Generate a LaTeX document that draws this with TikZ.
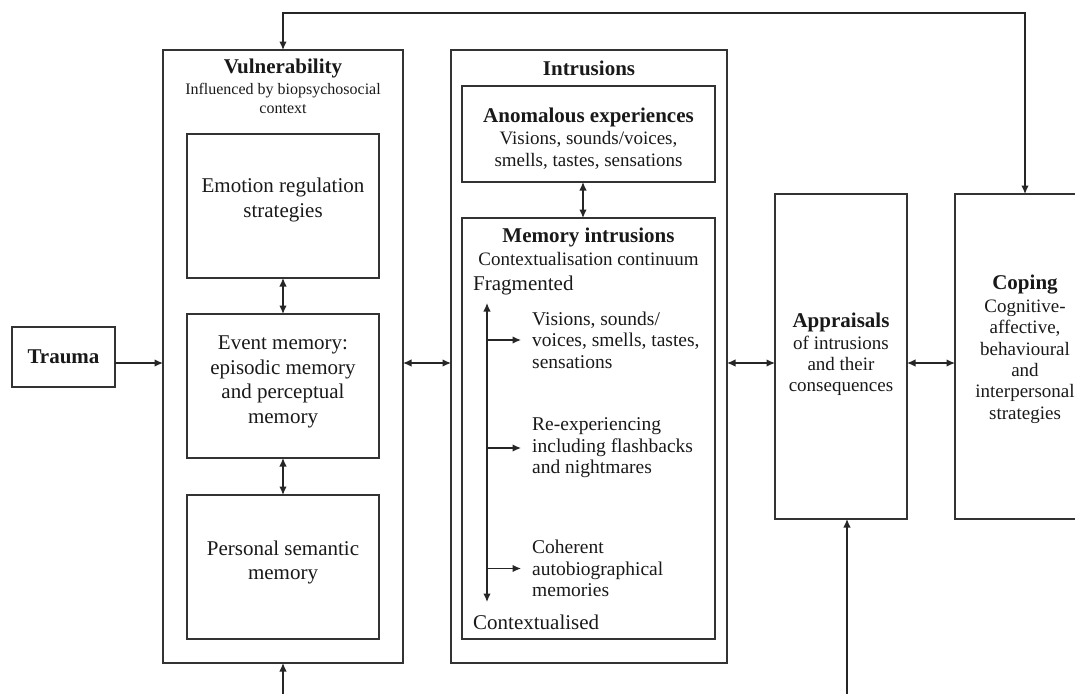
\documentclass[tikz,border=0pt]{standalone}
\usepackage{fontspec}
\setmainfont{Liberation Serif}
\usetikzlibrary{arrows.meta}
\begin{document}
\begin{tikzpicture}[x=1pt,y=-1pt,
  box/.style={draw=black!80, line width=1.4pt, rectangle, inner sep=0pt, outer sep=0pt},
  txt/.style={inner sep=0pt, align=center, text=black!90},
  big/.style={font=\fontsize{21}{25}\selectfont},
  mid/.style={font=\fontsize{19}{22}\selectfont},
  small/.style={font=\fontsize{16}{19}\selectfont},
  ttl/.style={font=\fontsize{21}{25}\selectfont\bfseries},
  branch/.style={inner sep=0pt, align=left, anchor=west, text=black!90, font=\fontsize{19.5}{21.5}\selectfont},
  arr/.style={-{Latex[length=8.5pt,width=7.5pt]}, line width=1.3pt, draw=black!85},
  dbl/.style={{Latex[length=8.5pt,width=7.5pt]}-{Latex[length=8.5pt,width=7.5pt]}, line width=1.3pt, draw=black!85},
]
\useasboundingbox (0,0) rectangle (1075,694);

% Trauma
\node[box, minimum width=103, minimum height=60, txt, ttl] (trauma) at (63.5,357) {Trauma};

% Vulnerability block
\node[box, minimum width=240, minimum height=613] (vul) at (283,356.5) {};
\node[txt, ttl] (vultitle) at (283,68) {Vulnerability};
\node[txt, small] (vulsub) at (283,98.5) {Influenced by biopsychosocial\\context};
\node[box, minimum width=192, minimum height=144] (emo) at (283,206) {};
\node[txt, big] (emotxt) at (283,200) {Emotion regulation\\strategies};
\node[box, minimum width=192, minimum height=144] (event) at (283,386) {};
\node[txt, font=\fontsize{21}{24.7}\selectfont] (eventtxt) at (283,382) {Event memory:\\episodic memory\\and perceptual\\memory};
\node[box, minimum width=192, minimum height=144] (pers) at (283,567) {};
\node[txt, font=\fontsize{21}{24}\selectfont] (perstxt) at (283,562) {Personal semantic\\memory};

% Intrusions block
\node[box, minimum width=276, minimum height=613] (intr) at (589,356.5) {};
\node[txt, ttl] (intrtitle) at (589,68) {Intrusions};
\node[box, minimum width=253, minimum height=96] (anom) at (588.5,134) {};
\node[txt, ttl] (anomtitle) at (588.5,117) {Anomalous experiences};
\node[txt, mid] (anomtxt) at (588.5,150) {Visions, sounds/voices,\\smells, tastes, sensations};
\node[box, minimum width=253, minimum height=421] (mem) at (588.5,428.5) {};
\node[txt, ttl] (memtitle) at (588.5,237) {Memory intrusions};
\node[txt, mid] (memsub) at (588.5,259) {Contextualisation continuum};
\node[txt, big, anchor=west] (frag) at (473,285) {Fragmented};
\node[txt, big, anchor=west] (ctx) at (473,622) {Contextualised};
\coordinate (ctop) at (487,303);
\coordinate (cbot) at (487,602);
\node[branch] (b1) at (532,340) {Visions, sounds/\\voices, smells, tastes,\\sensations};
\node[branch] (b2) at (532,448) {Re-experiencing\\including flashbacks\\and nightmares};
\node[branch] (b3) at (532,568.5) {Coherent\\autobiographical\\memories};

% Appraisals and coping
\node[box, minimum width=132, minimum height=325] (appr) at (841,356.5) {};
\node[txt, ttl] (apprtitle) at (841,322) {Appraisals};
\node[txt, font=\fontsize{19}{21}\selectfont] (apprtxt) at (841,366) {of intrusions\\and their\\consequences};
\node[box, minimum width=140, minimum height=325] (coping) at (1025,356.5) {};
\node[txt, ttl] (copingtitle) at (1025,285) {Coping};
\node[txt, font=\fontsize{19}{21.4}\selectfont] (copingtxt) at (1025,361.5) {Cognitive-\\affective,\\behavioural\\and\\interpersonal\\strategies};

% Connectors
\coordinate (row) at (0,363);
\coordinate (fb) at (0,13);
\coordinate (ax) at (583,0);
\coordinate (vin) at (283,694);
\coordinate (ain) at (847,694);

\draw[arr] (trauma.east |- row) -- (vul.west |- row);
\draw[dbl] (vul.east |- row) -- (intr.west |- row);
\draw[dbl] (intr.east |- row) -- (appr.west |- row);
\draw[dbl] (appr.east |- row) -- (coping.west |- row);

\draw[dbl] (emo.south) -- (event.north);
\draw[dbl] (event.south) -- (pers.north);
\draw[dbl] (anom.south -| ax) -- (mem.north -| ax);

\draw[dbl] (ctop) -- (cbot);
\draw[arr, shorten >=11pt] (ctop |- b1.west) -- (b1.west);
\draw[arr, shorten >=11pt] (ctop |- b2.west) -- (b2.west);
\draw[arr, shorten >=11pt] (ctop |- b3.west) -- (b3.west);

\draw[dbl] (vul.north) -- (vul.north |- fb) -- (coping.north |- fb) -- (coping.north);
\draw[arr] (vin) -- (vul.south);
\draw[arr] (ain) -- (ain |- appr.south);
\end{tikzpicture}
\end{document}
